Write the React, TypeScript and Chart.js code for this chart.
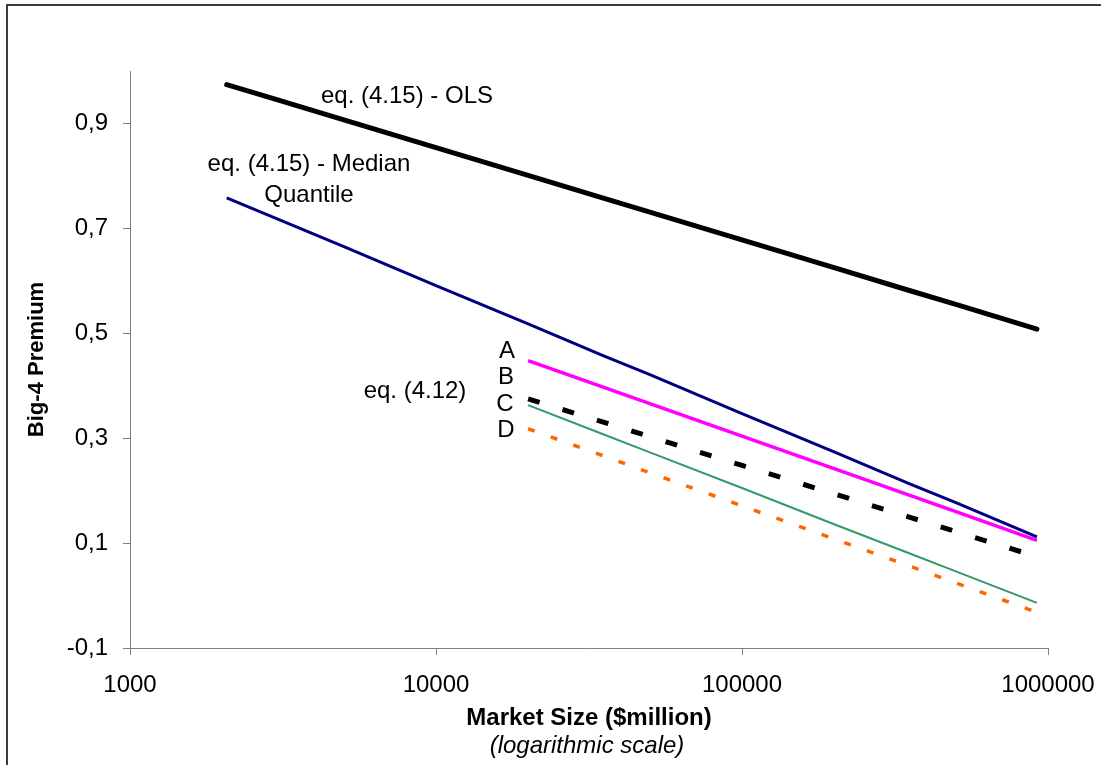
import React, { useEffect, useRef } from "react";
import { Chart, registerables } from "chart.js";

Chart.register(...registerables);

// ---- data ----
const X_TICKS = [1000, 10000, 100000, 1000000];
const Y_TICKS = [-0.1, 0.1, 0.3, 0.5, 0.7, 0.9];

const X_EQ415 = [2070, 3000, 5000, 10000, 20000, 35000, 50000, 100000, 200000, 350000, 500000, 920000];
const OLS = [0.974, 0.946, 0.907, 0.854, 0.801, 0.758, 0.731, 0.678, 0.625, 0.582, 0.555, 0.508];
const MEDIAN_QUANTILE = [0.758, 0.719, 0.665, 0.591, 0.518, 0.458, 0.421, 0.347, 0.274, 0.214, 0.177, 0.112];

const X_EQ412 = [20000, 35000, 50000, 100000, 200000, 350000, 500000, 920000];
const SERIES_A = [0.448, 0.398, 0.366, 0.304, 0.242, 0.192, 0.16, 0.105];
const SERIES_C = [0.375, 0.331, 0.303, 0.248, 0.194, 0.15, 0.122, 0.074];
const SERIES_B = [0.363, 0.308, 0.273, 0.205, 0.136, 0.081, 0.046, -0.014];
const SERIES_D = [0.318, 0.267, 0.234, 0.171, 0.108, 0.057, 0.024, -0.032];

const FONT = "'Liberation Sans', Arial, sans-serif";

const pts = (xs: number[], ys: number[]) => xs.map((x, i) => ({ x, y: ys[i] }));

const framePlugin = {
  id: "frame",
  beforeDraw(chart: any) {
    const ctx = chart.ctx;
    ctx.save();
    ctx.fillStyle = "#ffffff";
    ctx.fillRect(0, 0, chart.width, chart.height);
    ctx.strokeStyle = "#3a3a3a";
    ctx.lineWidth = 2;
    ctx.strokeRect(7, 5, 1300, 1000);
    ctx.restore();
  },
};

const labelsPlugin = {
  id: "labels",
  afterDatasetsDraw(chart: any) {
    const ctx = chart.ctx;
    ctx.save();
    ctx.fillStyle = "#000000";
    ctx.textAlign = "center";
    ctx.textBaseline = "middle";
    ctx.font = `24px ${FONT}`;
    const items: [string, number, number][] = [
      ["eq. (4.15) - OLS", 407, 96],
      ["eq. (4.15) - Median", 309, 164],
      ["Quantile", 309, 195],
      ["eq. (4.12)", 415, 391],
      ["A", 507, 351],
      ["B", 506, 377],
      ["C", 505, 404],
      ["D", 506, 430],
    ];
    for (const [t, x, y] of items) ctx.fillText(t, x, y);
    ctx.font = `italic 24px ${FONT}`;
    ctx.fillText("(logarithmic scale)", 587, 746);
    ctx.restore();
  },
};

export default function App() {
  const ref = useRef<HTMLCanvasElement | null>(null);

  useEffect(() => {
    if (!ref.current) return;
    const chart = new Chart(ref.current, {
      type: "scatter",
      data: {
        datasets: [
          {
            label: "eq. (4.15) - OLS",
            data: pts(X_EQ415, OLS),
            showLine: true,
            borderColor: "#000000",
            borderWidth: 5,
            borderCapStyle: "round",
            pointRadius: 0,
          },
          {
            label: "eq. (4.15) - Median Quantile",
            data: pts(X_EQ415, MEDIAN_QUANTILE),
            showLine: true,
            borderColor: "#000080",
            borderWidth: 3,
            pointRadius: 0,
          },
          {
            label: "A",
            data: pts(X_EQ412, SERIES_A),
            showLine: true,
            borderColor: "#ff00ff",
            borderWidth: 3.5,
            pointRadius: 0,
          },
          {
            label: "C",
            data: pts(X_EQ412, SERIES_C),
            showLine: true,
            borderColor: "#000000",
            borderWidth: 5,
            borderDash: [12, 24],
            borderCapStyle: "butt",
            pointRadius: 0,
          },
          {
            label: "B",
            data: pts(X_EQ412, SERIES_B),
            showLine: true,
            borderColor: "#339966",
            borderWidth: 2,
            pointRadius: 0,
          },
          {
            label: "D",
            data: pts(X_EQ412, SERIES_D),
            showLine: true,
            borderColor: "#ff6600",
            borderWidth: 3.5,
            borderDash: [7, 17],
            borderCapStyle: "butt",
            pointRadius: 0,
          },
        ],
      },
      options: {
        animation: false,
        responsive: false,
        devicePixelRatio: 1,
        layout: { padding: { left: 0, top: 71, right: 53, bottom: 0 } },
        plugins: {
          legend: { display: false },
          tooltip: { enabled: false },
          title: { display: false },
        },
        scales: {
          x: {
            type: "logarithmic",
            position: "bottom",
            min: 1000,
            max: 1000000,
            afterBuildTicks: (scale: any) => {
              scale.ticks = X_TICKS.map((v) => ({ value: v }));
            },
            afterFit: (scale: any) => {
              scale.height = 117;
              scale.paddingLeft = 0;
              scale.paddingRight = 0;
            },
            ticks: {
              autoSkip: false,
              maxRotation: 0,
              padding: 16,
              color: "#000000",
              font: { family: FONT, size: 24 },
              callback: (v: any) => String(v),
            },
            grid: {
              display: true,
              drawOnChartArea: false,
              drawTicks: true,
              tickLength: 7,
              color: "#808080",
              lineWidth: 1,
            },
            border: { display: true, color: "#808080", width: 1 },
            title: {
              display: true,
              text: "Market Size ($million)",
              color: "#000000",
              font: { family: FONT, size: 24, weight: "bold" },
              padding: { top: 0, bottom: 32 },
            },
          },
          y: {
            type: "linear",
            min: -0.1,
            max: 1.0,
            afterBuildTicks: (scale: any) => {
              scale.ticks = Y_TICKS.map((v) => ({ value: v }));
            },
            afterFit: (scale: any) => {
              scale.width = 130;
              scale.paddingTop = 0;
              scale.paddingBottom = 0;
            },
            ticks: {
              padding: 15,
              color: "#000000",
              font: { family: FONT, size: 24 },
              callback: (v: any) => Number(v).toFixed(1).replace(".", ","),
            },
            grid: {
              display: true,
              drawOnChartArea: false,
              drawTicks: true,
              tickLength: 7,
              color: "#808080",
              lineWidth: 1,
            },
            border: { display: true, color: "#808080", width: 1 },
            title: {
              display: true,
              text: "Big-4 Premium",
              color: "#000000",
              font: { family: FONT, size: 22, weight: "bold" },
              padding: { top: 24, bottom: 0 },
            },
          },
        },
      },
      plugins: [framePlugin, labelsPlugin],
    } as any);
    return () => chart.destroy();
  }, []);

  return (
    <div style={{ position: "absolute", left: 0, top: 0, width: 1101, height: 765, overflow: "hidden" }}>
      <canvas ref={ref} width={1101} height={765} style={{ display: "block" }} />
    </div>
  );
}
